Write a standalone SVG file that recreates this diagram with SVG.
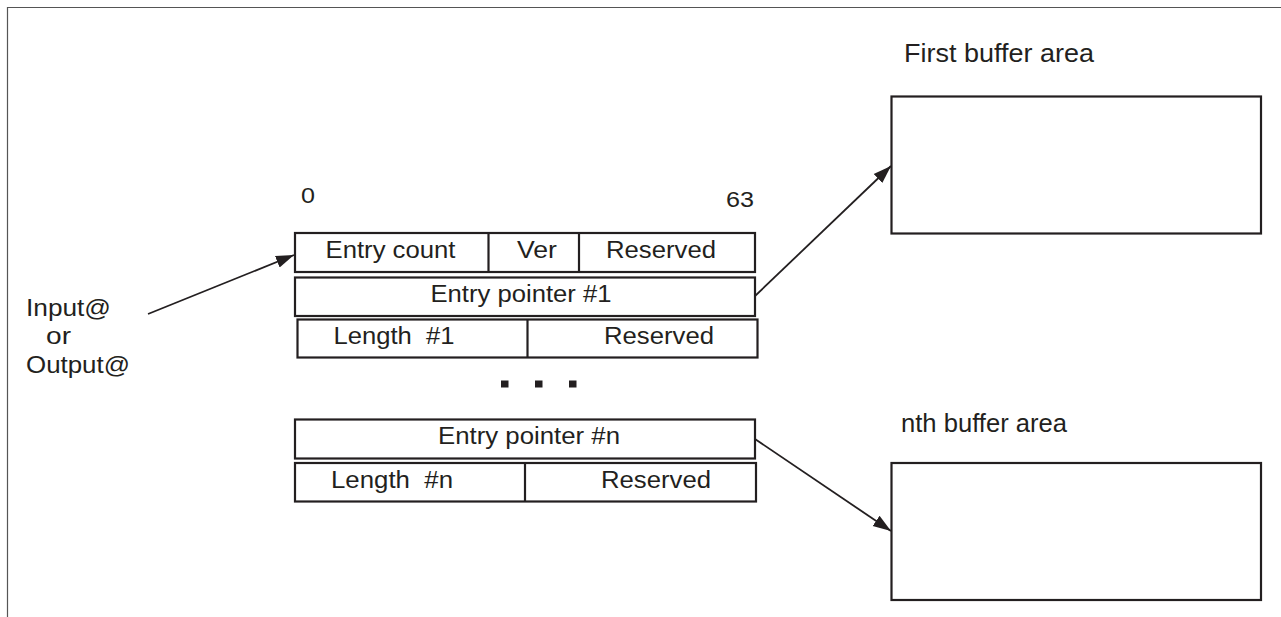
<svg xmlns="http://www.w3.org/2000/svg" width="1281" height="617" viewBox="0 0 1281 617">
<style>
.box{fill:#fff;stroke:#231f20;stroke-width:2.2}
.div{stroke:#231f20;stroke-width:2.2}
.t{font-family:"Liberation Sans",Arial,sans-serif;fill:#231f20}
.tc{font-size:23px;text-anchor:middle}
.lbl{font-size:25px}
.side{font-size:24px}
.num{font-size:22px}
.conn{stroke:#231f20;stroke-width:1.8;fill:none}
</style>
<defs>
<marker id="arr" markerUnits="userSpaceOnUse" markerWidth="20" markerHeight="16" refX="18" refY="8" orient="auto">
<path d="M0,1.8 L18,8 L0,14.2 Z" fill="#231f20"/>
</marker>
</defs>
<rect width="1281" height="617" fill="#fff"/>
<g id="frame">
<path d="M7.5,617 V7.5 H1281" fill="none" stroke="#555" stroke-width="1.2"/>
</g>
<g id="side-label">
<text class="t side" x="26" y="316" textLength="85" lengthAdjust="spacingAndGlyphs">Input@</text>
<text class="t side" x="46" y="344" textLength="25" lengthAdjust="spacingAndGlyphs">or</text>
<text class="t side" x="26" y="373" textLength="104" lengthAdjust="spacingAndGlyphs">Output@</text>
</g>
<g id="bit-labels">
<text class="t num" x="301" y="203" textLength="14" lengthAdjust="spacingAndGlyphs">0</text>
<text class="t num" x="754" y="207" text-anchor="end" textLength="28" lengthAdjust="spacingAndGlyphs">63</text>
</g>
<g id="header-row">
<rect class="box" x="295" y="233" width="460" height="39"/>
<line class="div" x1="488.5" y1="233" x2="488.5" y2="272"/>
<line class="div" x1="579" y1="233" x2="579" y2="272"/>
<text class="t tc" x="390.5" y="258" textLength="130" lengthAdjust="spacingAndGlyphs">Entry count</text>
<text class="t tc" x="537" y="258" textLength="40" lengthAdjust="spacingAndGlyphs">Ver</text>
<text class="t tc" x="661" y="258" textLength="110" lengthAdjust="spacingAndGlyphs">Reserved</text>
</g>
<g id="entry-pointer-1">
<rect class="box" x="295" y="277.5" width="460" height="38.5"/>
<text class="t tc" x="521" y="302" textLength="181" lengthAdjust="spacingAndGlyphs">Entry pointer #1</text>
</g>
<g id="length-1">
<rect class="box" x="297.5" y="319.5" width="460" height="38"/>
<line class="div" x1="527.5" y1="319.5" x2="527.5" y2="357.5"/>
<text class="t tc" x="394" y="343.5" xml:space="preserve" textLength="121" lengthAdjust="spacingAndGlyphs">Length  #1</text>
<text class="t tc" x="659" y="343.5" textLength="110" lengthAdjust="spacingAndGlyphs">Reserved</text>
</g>
<g id="ellipsis">
<rect x="501" y="380.5" width="7.5" height="7" fill="#231f20"/>
<rect x="535" y="380.5" width="7.5" height="7" fill="#231f20"/>
<rect x="569" y="380.5" width="7.5" height="7" fill="#231f20"/>
</g>
<g id="entry-pointer-n">
<rect class="box" x="295" y="419.5" width="460" height="39"/>
<text class="t tc" x="529" y="443.5" textLength="182" lengthAdjust="spacingAndGlyphs">Entry pointer #n</text>
</g>
<g id="length-n">
<rect class="box" x="295" y="463" width="461" height="38.5"/>
<line class="div" x1="525" y1="463" x2="525" y2="501.5"/>
<text class="t tc" x="392" y="487.5" xml:space="preserve" textLength="122" lengthAdjust="spacingAndGlyphs">Length  #n</text>
<text class="t tc" x="656" y="487.5" textLength="110" lengthAdjust="spacingAndGlyphs">Reserved</text>
</g>
<g id="first-buffer">
<text class="t lbl" x="904" y="62" textLength="190" lengthAdjust="spacingAndGlyphs">First buffer area</text>
<rect class="box" x="891.5" y="96.5" width="369.5" height="137"/>
</g>
<g id="nth-buffer">
<text class="t lbl" x="901" y="432" textLength="166" lengthAdjust="spacingAndGlyphs">nth buffer area</text>
<rect class="box" x="891.5" y="463" width="369.5" height="137"/>
</g>
<g id="connectors">
<line class="conn" x1="148" y1="314" x2="294" y2="255" marker-end="url(#arr)"/>
<line class="conn" x1="755" y1="296" x2="891" y2="166" marker-end="url(#arr)"/>
<line class="conn" x1="755" y1="439" x2="891" y2="531" marker-end="url(#arr)"/>
</g>
</svg>
